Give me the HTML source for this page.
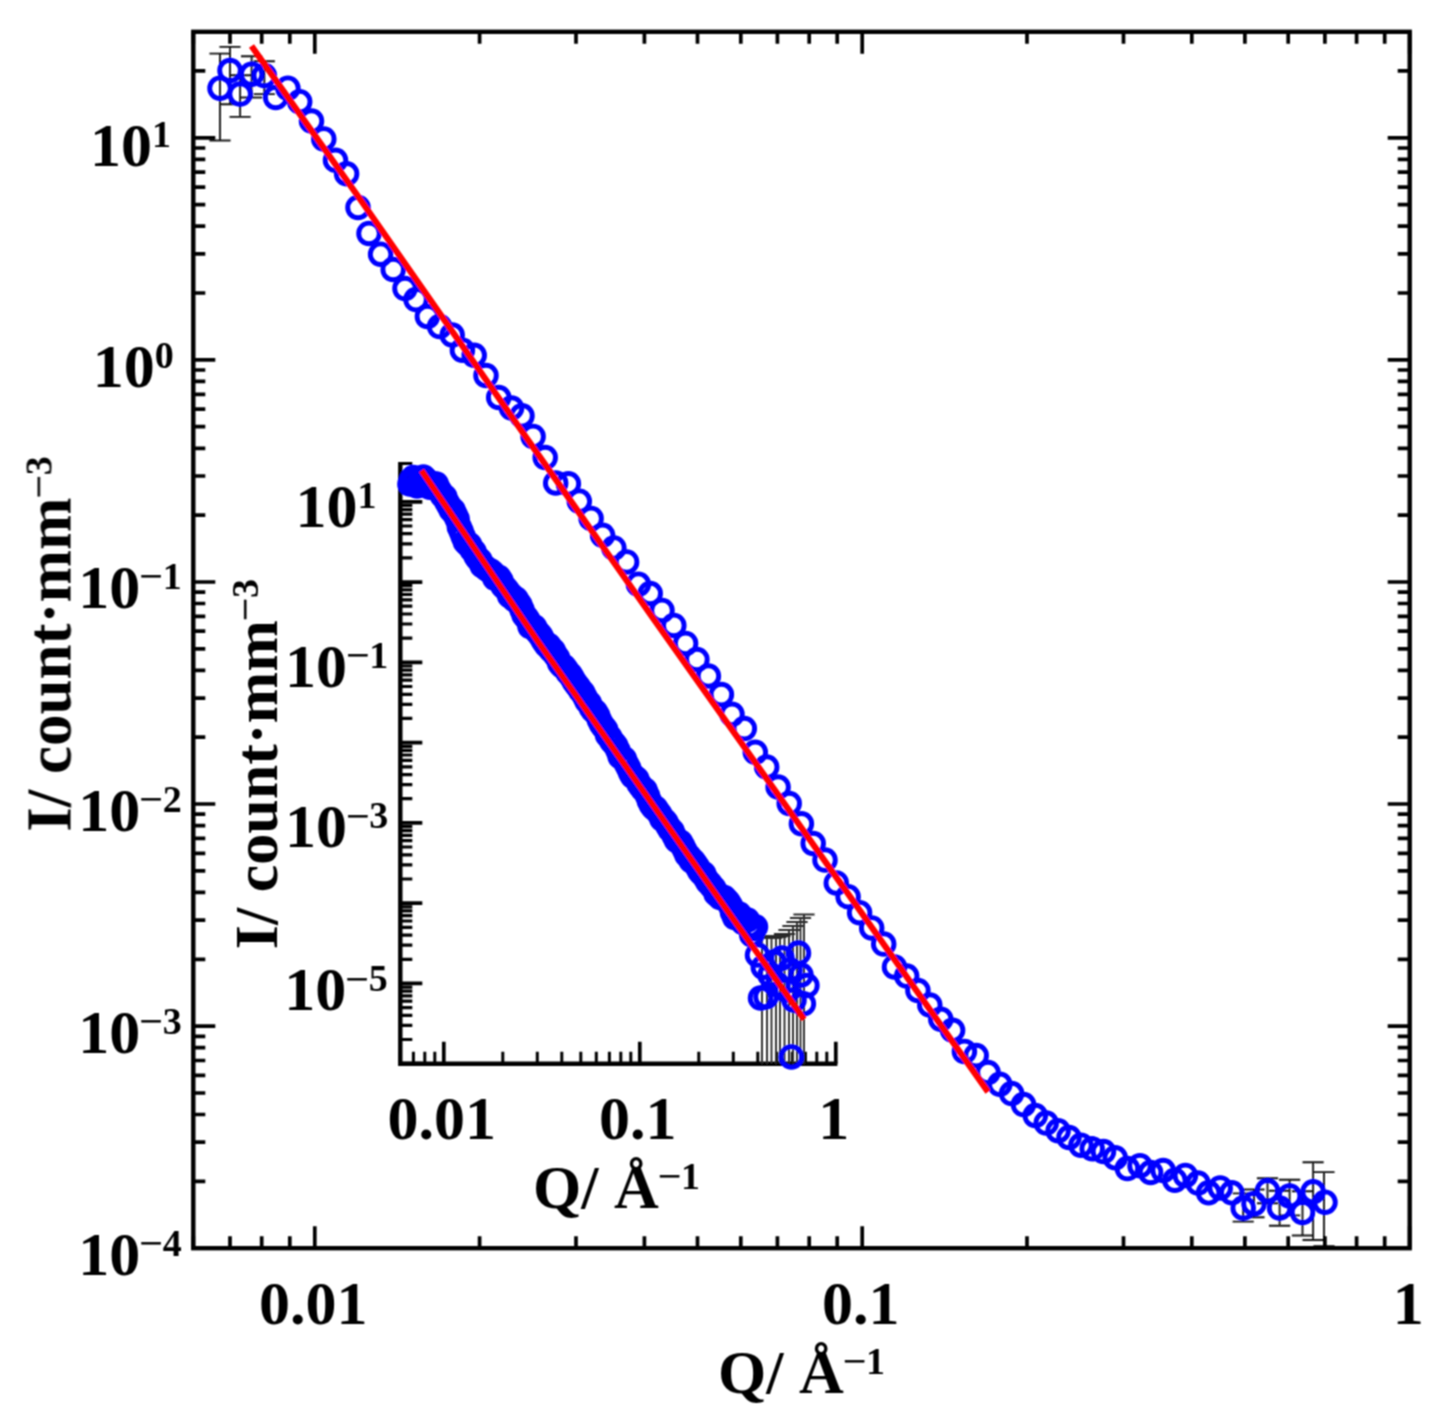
<!DOCTYPE html>
<html lang="en"><head><meta charset="utf-8"><title>I(Q) log-log plot</title>
<style>html,body{margin:0;padding:0;background:#fff}svg{display:block}</style></head>
<body>
<svg width="1448" height="1422" viewBox="0 0 1448 1422">
<defs><filter id="soft" filterUnits="userSpaceOnUse" x="0" y="0" width="1448" height="1422"><feConvolveMatrix order="3" kernelMatrix="1 2 1 2 4 2 1 2 1" divisor="16" edgeMode="duplicate"/></filter></defs>
<rect width="1448" height="1422" fill="#fff"/>
<g filter="url(#soft)">
<g stroke="#151515" stroke-width="1.9" fill="none">
<path d="M220 53.6V140.5M209.4 53.6H230.6M209.4 140.5H230.6M230 46.9V104.3M219.4 46.9H240.6M219.4 104.3H240.6M240.1 75.2V116.9M229.5 75.2H250.7M229.5 116.9H250.7M251.6 56.2V97.5M241 56.2H262.2M241 97.5H262.2M264.3 61.2V94.1M253.7 61.2H274.9M253.7 94.1H274.9M1243.2 1193.4V1221.6M1232.6 1193.4H1253.8M1232.6 1221.6H1253.8M1254 1189.5V1217.2M1243.4 1189.5H1264.6M1243.4 1217.2H1264.6M1267.5 1178.3V1203.2M1256.9 1178.3H1278.1M1256.9 1203.2H1278.1M1279.6 1190.8V1225.8M1269 1190.8H1290.2M1269 1225.8H1290.2M1289.6 1179.7V1215.4M1279 1179.7H1300.2M1279 1215.4H1300.2M1302.5 1191.3V1235.5M1291.9 1191.3H1313.1M1291.9 1235.5H1313.1M1313.1 1162.3V1240M1302.5 1162.3H1323.7M1302.5 1240H1323.7M1324 1172.1V1246.2M1313.4 1172.1H1334.6M1313.4 1246.2H1334.6"/></g>
<g fill="none" stroke="#0000ff" stroke-width="4.9">
<circle cx="220" cy="88.2" r="10.3"/>
<circle cx="230" cy="70.5" r="10.3"/>
<circle cx="240.1" cy="94.1" r="10.3"/>
<circle cx="251.6" cy="74.2" r="10.3"/>
<circle cx="264.3" cy="75.6" r="10.3"/>
<circle cx="275.7" cy="97.5" r="10.3"/>
<circle cx="287.9" cy="88.2" r="10.3"/>
<circle cx="299.7" cy="101.7" r="10.3"/>
<circle cx="311.5" cy="121.1" r="10.3"/>
<circle cx="323.8" cy="138.9" r="10.3"/>
<circle cx="335.5" cy="160.3" r="10.3"/>
<circle cx="346.6" cy="173.8" r="10.3"/>
<circle cx="358" cy="207.5" r="10.3"/>
<circle cx="369" cy="233.4" r="10.3"/>
<circle cx="380.6" cy="254.2" r="10.3"/>
<circle cx="393.2" cy="269.5" r="10.3"/>
<circle cx="405" cy="288.6" r="10.3"/>
<circle cx="416" cy="299.6" r="10.3"/>
<circle cx="427.4" cy="316.5" r="10.3"/>
<circle cx="439.6" cy="326.6" r="10.3"/>
<circle cx="452.2" cy="335" r="10.3"/>
<circle cx="462.4" cy="350.2" r="10.3"/>
<circle cx="474.2" cy="355.3" r="10.3"/>
<circle cx="486" cy="375.5" r="10.3"/>
<circle cx="498.7" cy="397.5" r="10.3"/>
<circle cx="511.5" cy="408" r="10.3"/>
<circle cx="522" cy="415.8" r="10.3"/>
<circle cx="533.1" cy="436.4" r="10.3"/>
<circle cx="545.2" cy="457.6" r="10.3"/>
<circle cx="555.7" cy="483" r="10.3"/>
<circle cx="568.4" cy="483.8" r="10.3"/>
<circle cx="579.3" cy="501.2" r="10.3"/>
<circle cx="591.1" cy="518.4" r="10.3"/>
<circle cx="602.6" cy="535.3" r="10.3"/>
<circle cx="613.9" cy="547.9" r="10.3"/>
<circle cx="626.6" cy="561.9" r="10.3"/>
<circle cx="638.4" cy="584.2" r="10.3"/>
<circle cx="650.2" cy="593.5" r="10.3"/>
<circle cx="662" cy="610.4" r="10.3"/>
<circle cx="673.8" cy="625.4" r="10.3"/>
<circle cx="685.6" cy="643.4" r="10.3"/>
<circle cx="696.9" cy="659.5" r="10.3"/>
<circle cx="708.4" cy="676" r="10.3"/>
<circle cx="721.4" cy="694.6" r="10.3"/>
<circle cx="732" cy="714.3" r="10.3"/>
<circle cx="744.3" cy="728.6" r="10.3"/>
<circle cx="755.3" cy="752.3" r="10.3"/>
<circle cx="766.7" cy="767.1" r="10.3"/>
<circle cx="778.1" cy="787" r="10.3"/>
<circle cx="789.2" cy="803.6" r="10.3"/>
<circle cx="801.4" cy="823.8" r="10.3"/>
<circle cx="813.2" cy="843.5" r="10.3"/>
<circle cx="825" cy="860.1" r="10.3"/>
<circle cx="836.3" cy="882.9" r="10.3"/>
<circle cx="848.1" cy="896.7" r="10.3"/>
<circle cx="859.6" cy="912.7" r="10.3"/>
<circle cx="871.7" cy="927.9" r="10.3"/>
<circle cx="883.7" cy="944.1" r="10.3"/>
<circle cx="894.5" cy="966.9" r="10.3"/>
<circle cx="906.7" cy="976.1" r="10.3"/>
<circle cx="917.9" cy="990.5" r="10.3"/>
<circle cx="929.8" cy="1005" r="10.3"/>
<circle cx="940.8" cy="1019.3" r="10.3"/>
<circle cx="952.6" cy="1030.3" r="10.3"/>
<circle cx="964.4" cy="1051.4" r="10.3"/>
<circle cx="976.2" cy="1055.6" r="10.3"/>
<circle cx="988" cy="1072.5" r="10.3"/>
<circle cx="999.8" cy="1084.3" r="10.3"/>
<circle cx="1011.6" cy="1093.6" r="10.3"/>
<circle cx="1023.5" cy="1104.6" r="10.3"/>
<circle cx="1035.3" cy="1115.5" r="10.3"/>
<circle cx="1046.2" cy="1123.1" r="10.3"/>
<circle cx="1058.1" cy="1130.7" r="10.3"/>
<circle cx="1069" cy="1137.5" r="10.3"/>
<circle cx="1080.9" cy="1145.2" r="10.3"/>
<circle cx="1092.2" cy="1148.8" r="10.3"/>
<circle cx="1103.5" cy="1151.6" r="10.3"/>
<circle cx="1115.2" cy="1157.8" r="10.3"/>
<circle cx="1127.4" cy="1168.6" r="10.3"/>
<circle cx="1140" cy="1165.7" r="10.3"/>
<circle cx="1150.6" cy="1172.5" r="10.3"/>
<circle cx="1163.2" cy="1170.5" r="10.3"/>
<circle cx="1174.8" cy="1180.2" r="10.3"/>
<circle cx="1185.4" cy="1175.4" r="10.3"/>
<circle cx="1198" cy="1183.1" r="10.3"/>
<circle cx="1208.6" cy="1192.8" r="10.3"/>
<circle cx="1220.2" cy="1187.9" r="10.3"/>
<circle cx="1231.8" cy="1192.8" r="10.3"/>
<circle cx="1243.2" cy="1207.9" r="10.3"/>
<circle cx="1254" cy="1203.7" r="10.3"/>
<circle cx="1267.5" cy="1190.8" r="10.3"/>
<circle cx="1279.6" cy="1207.9" r="10.3"/>
<circle cx="1289.6" cy="1195.9" r="10.3"/>
<circle cx="1302.5" cy="1212.5" r="10.3"/>
<circle cx="1313.1" cy="1191.8" r="10.3"/>
<circle cx="1325" cy="1202.2" r="10.3"/>
</g>
<polyline fill="none" stroke="#ff0000" stroke-width="6.2" stroke-linecap="butt" points="251.5,46 361,200.5 527.3,439 653.6,619 788.5,809.5 922.9,999.8 988,1091.9"/>
<g stroke="#000" fill="none" stroke-linecap="butt">
<path d="M400.3 461.9V1063.7H837.4" stroke-width="4.4" stroke-linejoin="miter"/>
<path d="M443.8 1063.7v-22.0M639.8 1063.7v-22.0M835.8 1063.7v-22.0M400.3 1063.7h22.0M400.3 983.4h22.0M400.3 903.1h22.0M400.3 822.9h22.0M400.3 742.6h22.0M400.3 662.3h22.0M400.3 582.1h22.0M400.3 501.8h22.0" stroke-width="3.7"/>
<path d="M400.3 1063.7v-12.0M413.4 1063.7v-12.0M424.8 1063.7v-12.0M434.8 1063.7v-12.0M502.8 1063.7v-12.0M537.3 1063.7v-12.0M561.8 1063.7v-12.0M580.8 1063.7v-12.0M596.3 1063.7v-12.0M609.4 1063.7v-12.0M620.8 1063.7v-12.0M630.8 1063.7v-12.0M698.8 1063.7v-12.0M733.3 1063.7v-12.0M757.8 1063.7v-12.0M776.8 1063.7v-12.0M792.3 1063.7v-12.0M805.4 1063.7v-12.0M816.8 1063.7v-12.0M826.8 1063.7v-12.0" stroke-width="3"/>
<path d="M400.3 1039.5h12.0M400.3 1025.4h12.0M400.3 1015.4h12.0M400.3 1007.6h12.0M400.3 1001.2h12.0M400.3 995.9h12.0M400.3 991.2h12.0M400.3 987.1h12.0M400.3 959.3h12.0M400.3 945.1h12.0M400.3 935.1h12.0M400.3 927.3h12.0M400.3 921h12.0M400.3 915.6h12.0M400.3 910.9h12.0M400.3 906.8h12.0M400.3 879h12.0M400.3 864.9h12.0M400.3 854.8h12.0M400.3 847h12.0M400.3 840.7h12.0M400.3 835.3h12.0M400.3 830.7h12.0M400.3 826.6h12.0M400.3 798.7h12.0M400.3 784.6h12.0M400.3 774.6h12.0M400.3 766.8h12.0M400.3 760.4h12.0M400.3 755h12.0M400.3 750.4h12.0M400.3 746.3h12.0M400.3 718.4h12.0M400.3 704.3h12.0M400.3 694.3h12.0M400.3 686.5h12.0M400.3 680.1h12.0M400.3 674.8h12.0M400.3 670.1h12.0M400.3 666h12.0M400.3 638.2h12.0M400.3 624h12.0M400.3 614h12.0M400.3 606.2h12.0M400.3 599.9h12.0M400.3 594.5h12.0M400.3 589.8h12.0M400.3 585.7h12.0M400.3 557.9h12.0M400.3 543.8h12.0M400.3 533.7h12.0M400.3 526h12.0M400.3 519.6h12.0M400.3 514.2h12.0M400.3 509.6h12.0M400.3 505.5h12.0M400.3 477.6h12.0M400.3 463.5h12.0" stroke-width="3.2"/>
</g>
<g stroke="#2a2a2a" stroke-width="1.9" fill="none">
<path d="M762 936V1063.7M751.4 936H772.6M767 937V1063.7M756.4 937H777.6M771.5 938V1063.7M760.9 938H782.1M776 937V1063.7M765.4 937H786.6M780 936V1063.7M769.4 936H790.6M784.5 934V1063.7M773.9 934H795.1M789 930V1063.7M778.4 930H799.6M793 926V1063.7M782.4 926H803.6M797 922V1063.7M786.4 922H807.6M800.5 918V1063.7M789.9 918H811.1M804 914.5V1063.7M793.4 914.5H814.6"/></g>
<g fill="none" stroke="#0000ff" stroke-width="4.9">
<circle cx="409.9" cy="483.9" r="10.3"/>
<circle cx="411.6" cy="479.8" r="10.3"/>
<circle cx="413.4" cy="477.5" r="10.3"/>
<circle cx="415.2" cy="480" r="10.3"/>
<circle cx="417.1" cy="486" r="10.3"/>
<circle cx="419.1" cy="483.2" r="10.3"/>
<circle cx="421.2" cy="478.8" r="10.3"/>
<circle cx="423.4" cy="476.9" r="10.3"/>
<circle cx="425.7" cy="479.3" r="10.3"/>
<circle cx="427.8" cy="483.5" r="10.3"/>
<circle cx="429.8" cy="487.2" r="10.3"/>
<circle cx="432" cy="484.9" r="10.3"/>
<circle cx="434.2" cy="483.9" r="10.3"/>
<circle cx="436.3" cy="484.1" r="10.3"/>
<circle cx="438.4" cy="488.8" r="10.3"/>
<circle cx="440.5" cy="492.3" r="10.3"/>
<circle cx="442.6" cy="495.8" r="10.3"/>
<circle cx="444.8" cy="496.7" r="10.3"/>
<circle cx="447" cy="502.2" r="10.3"/>
<circle cx="449.1" cy="505.7" r="10.3"/>
<circle cx="451.2" cy="509.9" r="10.3"/>
<circle cx="453.2" cy="510.2" r="10.3"/>
<circle cx="455.2" cy="514.8" r="10.3"/>
<circle cx="457.2" cy="518.9" r="10.3"/>
<circle cx="459.3" cy="527" r="10.3"/>
<circle cx="461.2" cy="531.3" r="10.3"/>
<circle cx="463.2" cy="536.4" r="10.3"/>
<circle cx="465.3" cy="541.7" r="10.3"/>
<circle cx="467.4" cy="543.9" r="10.3"/>
<circle cx="469.6" cy="544.8" r="10.3"/>
<circle cx="471.9" cy="549.4" r="10.3"/>
<circle cx="474" cy="551.5" r="10.3"/>
<circle cx="476.1" cy="556.3" r="10.3"/>
<circle cx="478.1" cy="558.9" r="10.3"/>
<circle cx="480" cy="560.3" r="10.3"/>
<circle cx="482.1" cy="565.6" r="10.3"/>
<circle cx="484.1" cy="566.4" r="10.3"/>
<circle cx="486.3" cy="568.6" r="10.3"/>
<circle cx="488.5" cy="570" r="10.3"/>
<circle cx="490.7" cy="571" r="10.3"/>
<circle cx="493" cy="573.1" r="10.3"/>
<circle cx="494.8" cy="578.2" r="10.3"/>
<circle cx="496.6" cy="578.6" r="10.3"/>
<circle cx="498.8" cy="577.2" r="10.3"/>
<circle cx="500.9" cy="580.4" r="10.3"/>
<circle cx="503" cy="585.9" r="10.3"/>
<circle cx="505.1" cy="587.7" r="10.3"/>
<circle cx="507.4" cy="590.6" r="10.3"/>
<circle cx="509.6" cy="595.7" r="10.3"/>
<circle cx="511.9" cy="595.8" r="10.3"/>
<circle cx="514.2" cy="599.5" r="10.3"/>
<circle cx="516.1" cy="599" r="10.3"/>
<circle cx="518" cy="602.3" r="10.3"/>
<circle cx="520" cy="605.1" r="10.3"/>
<circle cx="522" cy="609.7" r="10.3"/>
<circle cx="524.1" cy="615.2" r="10.3"/>
<circle cx="526.3" cy="617.4" r="10.3"/>
<circle cx="528.2" cy="620.4" r="10.3"/>
<circle cx="530" cy="626.6" r="10.3"/>
<circle cx="532.3" cy="627.1" r="10.3"/>
<circle cx="534.6" cy="626.9" r="10.3"/>
<circle cx="536.5" cy="630.7" r="10.3"/>
<circle cx="538.5" cy="633.2" r="10.3"/>
<circle cx="540.6" cy="635.6" r="10.3"/>
<circle cx="542.7" cy="639.4" r="10.3"/>
<circle cx="544.8" cy="642.7" r="10.3"/>
<circle cx="546.8" cy="645.5" r="10.3"/>
<circle cx="548.9" cy="645.6" r="10.3"/>
<circle cx="550.9" cy="650.1" r="10.3"/>
<circle cx="553.2" cy="650.4" r="10.3"/>
<circle cx="555.4" cy="655.1" r="10.3"/>
<circle cx="557.5" cy="657.7" r="10.3"/>
<circle cx="559.7" cy="663.2" r="10.3"/>
<circle cx="561.8" cy="665.8" r="10.3"/>
<circle cx="563.9" cy="666.6" r="10.3"/>
<circle cx="566" cy="669.3" r="10.3"/>
<circle cx="568.1" cy="672.7" r="10.3"/>
<circle cx="570.2" cy="674.5" r="10.3"/>
<circle cx="572.3" cy="678.1" r="10.3"/>
<circle cx="574.4" cy="681.8" r="10.3"/>
<circle cx="576.6" cy="684.7" r="10.3"/>
<circle cx="578.6" cy="687.3" r="10.3"/>
<circle cx="580.6" cy="690.5" r="10.3"/>
<circle cx="582.7" cy="692.5" r="10.3"/>
<circle cx="584.7" cy="696.5" r="10.3"/>
<circle cx="587" cy="701.3" r="10.3"/>
<circle cx="589.4" cy="703.2" r="10.3"/>
<circle cx="591.3" cy="707.8" r="10.3"/>
<circle cx="593.2" cy="710.4" r="10.3"/>
<circle cx="595.4" cy="711.7" r="10.3"/>
<circle cx="597.6" cy="715.6" r="10.3"/>
<circle cx="599.5" cy="720.3" r="10.3"/>
<circle cx="601.5" cy="724.2" r="10.3"/>
<circle cx="603.6" cy="727.1" r="10.3"/>
<circle cx="605.6" cy="729.6" r="10.3"/>
<circle cx="607.6" cy="735.2" r="10.3"/>
<circle cx="609.7" cy="736.9" r="10.3"/>
<circle cx="611.7" cy="741.1" r="10.3"/>
<circle cx="613.6" cy="743" r="10.3"/>
<circle cx="615.8" cy="745.7" r="10.3"/>
<circle cx="618" cy="750.5" r="10.3"/>
<circle cx="620.1" cy="756.5" r="10.3"/>
<circle cx="622.2" cy="757.7" r="10.3"/>
<circle cx="624.4" cy="758.9" r="10.3"/>
<circle cx="626.5" cy="763.9" r="10.3"/>
<circle cx="628.5" cy="767.7" r="10.3"/>
<circle cx="630.5" cy="772.4" r="10.3"/>
<circle cx="632.6" cy="776.3" r="10.3"/>
<circle cx="634.7" cy="777.6" r="10.3"/>
<circle cx="636.8" cy="778.9" r="10.3"/>
<circle cx="638.9" cy="783.7" r="10.3"/>
<circle cx="641" cy="786.5" r="10.3"/>
<circle cx="643.2" cy="789.5" r="10.3"/>
<circle cx="645.3" cy="790.3" r="10.3"/>
<circle cx="647.5" cy="795.7" r="10.3"/>
<circle cx="649.4" cy="801" r="10.3"/>
<circle cx="651.3" cy="804.7" r="10.3"/>
<circle cx="653.5" cy="807.8" r="10.3"/>
<circle cx="655.7" cy="808.3" r="10.3"/>
<circle cx="657.7" cy="811.6" r="10.3"/>
<circle cx="659.7" cy="814.1" r="10.3"/>
<circle cx="661.9" cy="819" r="10.3"/>
<circle cx="664" cy="820.1" r="10.3"/>
<circle cx="666" cy="822.2" r="10.3"/>
<circle cx="667.9" cy="826.1" r="10.3"/>
<circle cx="670" cy="829.5" r="10.3"/>
<circle cx="672.1" cy="830.9" r="10.3"/>
<circle cx="674.3" cy="836" r="10.3"/>
<circle cx="676.4" cy="840.3" r="10.3"/>
<circle cx="678.5" cy="841.6" r="10.3"/>
<circle cx="680.6" cy="842.2" r="10.3"/>
<circle cx="682.7" cy="846" r="10.3"/>
<circle cx="684.8" cy="850.2" r="10.3"/>
<circle cx="686.9" cy="854.9" r="10.3"/>
<circle cx="689" cy="856.2" r="10.3"/>
<circle cx="691.2" cy="860.8" r="10.3"/>
<circle cx="693.3" cy="861" r="10.3"/>
<circle cx="695.4" cy="863.9" r="10.3"/>
<circle cx="697.5" cy="867.1" r="10.3"/>
<circle cx="699.6" cy="871.1" r="10.3"/>
<circle cx="701.8" cy="873.5" r="10.3"/>
<circle cx="703.7" cy="873.7" r="10.3"/>
<circle cx="705.7" cy="878.3" r="10.3"/>
<circle cx="707.8" cy="881.9" r="10.3"/>
<circle cx="709.9" cy="883.4" r="10.3"/>
<circle cx="711.9" cy="886.6" r="10.3"/>
<circle cx="713.8" cy="888.3" r="10.3"/>
<circle cx="716" cy="893.8" r="10.3"/>
<circle cx="718.1" cy="894.3" r="10.3"/>
<circle cx="720.1" cy="897.4" r="10.3"/>
<circle cx="722.1" cy="897.3" r="10.3"/>
<circle cx="724.2" cy="897.4" r="10.3"/>
<circle cx="726.2" cy="899.7" r="10.3"/>
<circle cx="728.3" cy="902.1" r="10.3"/>
<circle cx="730.4" cy="905.6" r="10.3"/>
<circle cx="732.5" cy="912.4" r="10.3"/>
<circle cx="734.7" cy="917.5" r="10.3"/>
<circle cx="737" cy="913.4" r="10.3"/>
<circle cx="739.2" cy="914" r="10.3"/>
<circle cx="741.1" cy="918.1" r="10.3"/>
<circle cx="743" cy="922.6" r="10.3"/>
<circle cx="745.3" cy="919.6" r="10.3"/>
<circle cx="747.5" cy="919.9" r="10.3"/>
<circle cx="749.6" cy="925.4" r="10.3"/>
<circle cx="751.7" cy="934.8" r="10.3"/>
<circle cx="753.6" cy="928.6" r="10.3"/>
<circle cx="755.5" cy="926.8" r="10.3"/>
<circle cx="757.5" cy="955" r="10.3"/>
<circle cx="760.5" cy="998.1" r="10.3"/>
<circle cx="763.3" cy="967.2" r="10.3"/>
<circle cx="766" cy="996.7" r="10.3"/>
<circle cx="770" cy="975" r="10.3"/>
<circle cx="774" cy="962" r="10.3"/>
<circle cx="778" cy="985" r="10.3"/>
<circle cx="782" cy="958" r="10.3"/>
<circle cx="786" cy="990" r="10.3"/>
<circle cx="790" cy="970" r="10.3"/>
<circle cx="791.4" cy="1056.9" r="10.3"/>
<circle cx="794" cy="1000" r="10.3"/>
<circle cx="798.5" cy="953.1" r="10.3"/>
<circle cx="801" cy="975" r="10.3"/>
<circle cx="803.4" cy="1003.8" r="10.3"/>
<circle cx="806.9" cy="985.5" r="10.3"/>
</g>
<polyline fill="none" stroke="#ff0000" stroke-width="6.0" points="421.5,470.5 536.9,640 705.7,880 804.1,1019.2"/>
<g stroke="#000" fill="none" stroke-linecap="butt">
<rect x="193.3" y="31.8" width="1216.4" height="1216.4" stroke-width="4.4"/>
<path d="M314.8 1248.2v-22.0M314.8 31.8v22.0M862.2 1248.2v-22.0M862.2 31.8v22.0M1409.7 1248.2v-22.0M1409.7 31.8v22.0M193.3 1248.2h22.0M1409.7 1248.2h-22.0M193.3 1026.1h22.0M1409.7 1026.1h-22.0M193.3 804h22.0M1409.7 804h-22.0M193.3 582h22.0M1409.7 582h-22.0M193.3 359.9h22.0M1409.7 359.9h-22.0M193.3 137.8h22.0M1409.7 137.8h-22.0M193.3 1248.2v-12.0M193.3 31.8v12.0M230 1248.2v-12.0M230 31.8v12.0M261.7 1248.2v-12.0M261.7 31.8v12.0M289.8 1248.2v-12.0M289.8 31.8v12.0M479.6 1248.2v-12.0M479.6 31.8v12.0M576 1248.2v-12.0M576 31.8v12.0M644.4 1248.2v-12.0M644.4 31.8v12.0M697.5 1248.2v-12.0M697.5 31.8v12.0M740.8 1248.2v-12.0M740.8 31.8v12.0M777.4 1248.2v-12.0M777.4 31.8v12.0M809.2 1248.2v-12.0M809.2 31.8v12.0M837.2 1248.2v-12.0M837.2 31.8v12.0M1027 1248.2v-12.0M1027 31.8v12.0M1123.5 1248.2v-12.0M1123.5 31.8v12.0M1191.8 1248.2v-12.0M1191.8 31.8v12.0M1244.9 1248.2v-12.0M1244.9 31.8v12.0M1288.2 1248.2v-12.0M1288.2 31.8v12.0M1324.9 1248.2v-12.0M1324.9 31.8v12.0M1356.6 1248.2v-12.0M1356.6 31.8v12.0M1384.7 1248.2v-12.0M1384.7 31.8v12.0M193.3 1181.3h12.0M1409.7 1181.3h-12.0M193.3 1142.2h12.0M1409.7 1142.2h-12.0M193.3 1114.5h12.0M1409.7 1114.5h-12.0M193.3 1093h12.0M1409.7 1093h-12.0M193.3 1075.4h12.0M1409.7 1075.4h-12.0M193.3 1060.5h12.0M1409.7 1060.5h-12.0M193.3 1047.6h12.0M1409.7 1047.6h-12.0M193.3 1036.3h12.0M1409.7 1036.3h-12.0M193.3 959.3h12.0M1409.7 959.3h-12.0M193.3 920.2h12.0M1409.7 920.2h-12.0M193.3 892.4h12.0M1409.7 892.4h-12.0M193.3 870.9h12.0M1409.7 870.9h-12.0M193.3 853.3h12.0M1409.7 853.3h-12.0M193.3 838.4h12.0M1409.7 838.4h-12.0M193.3 825.6h12.0M1409.7 825.6h-12.0M193.3 814.2h12.0M1409.7 814.2h-12.0M193.3 737.2h12.0M1409.7 737.2h-12.0M193.3 698.1h12.0M1409.7 698.1h-12.0M193.3 670.3h12.0M1409.7 670.3h-12.0M193.3 648.8h12.0M1409.7 648.8h-12.0M193.3 631.2h12.0M1409.7 631.2h-12.0M193.3 616.4h12.0M1409.7 616.4h-12.0M193.3 603.5h12.0M1409.7 603.5h-12.0M193.3 592.1h12.0M1409.7 592.1h-12.0M193.3 515.1h12.0M1409.7 515.1h-12.0M193.3 476h12.0M1409.7 476h-12.0M193.3 448.3h12.0M1409.7 448.3h-12.0M193.3 426.7h12.0M1409.7 426.7h-12.0M193.3 409.1h12.0M1409.7 409.1h-12.0M193.3 394.3h12.0M1409.7 394.3h-12.0M193.3 381.4h12.0M1409.7 381.4h-12.0M193.3 370h12.0M1409.7 370h-12.0M193.3 293h12.0M1409.7 293h-12.0M193.3 253.9h12.0M1409.7 253.9h-12.0M193.3 226.2h12.0M1409.7 226.2h-12.0M193.3 204.7h12.0M1409.7 204.7h-12.0M193.3 187.1h12.0M1409.7 187.1h-12.0M193.3 172.2h12.0M1409.7 172.2h-12.0M193.3 159.3h12.0M1409.7 159.3h-12.0M193.3 148h12.0M1409.7 148h-12.0M193.3 70.9h12.0M1409.7 70.9h-12.0M193.3 31.8h12.0M1409.7 31.8h-12.0" stroke-width="3.7"/>
</g>
<g font-family="'Liberation Serif','Times New Roman',serif" font-weight="bold" font-size="62" fill="#000">
<text x="90.1" y="165.7">10<tspan font-size="38" dy="-19">1</tspan></text>
<text x="92.8" y="387.2">10<tspan font-size="38" dy="-19">0</tspan></text>
<text x="78.3" y="607.5">10<tspan font-weight="normal" font-size="41" dx="-0.8" dy="-17.9" stroke="#000" stroke-width="0.5">−</tspan><tspan font-size="38" dy="-1.1">1</tspan></text>
<text x="78.3" y="830.6">10<tspan font-weight="normal" font-size="41" dx="-0.8" dy="-17.9" stroke="#000" stroke-width="0.5">−</tspan><tspan font-size="38" dy="-1.1">2</tspan></text>
<text x="78.3" y="1052.6">10<tspan font-weight="normal" font-size="41" dx="-0.8" dy="-17.9" stroke="#000" stroke-width="0.5">−</tspan><tspan font-size="38" dy="-1.1">3</tspan></text>
<text x="78.3" y="1274.6">10<tspan font-weight="normal" font-size="41" dx="-0.8" dy="-17.9" stroke="#000" stroke-width="0.5">−</tspan><tspan font-size="38" dy="-1.1">4</tspan></text>
<text x="313.3" y="1324.3" text-anchor="middle">0.01</text>
<text x="860.8" y="1324.3" text-anchor="middle">0.1</text>
<text x="1408.2" y="1324.3" text-anchor="middle">1</text>
<text x="801.5" y="1393.3" text-anchor="middle">Q/ Å<tspan font-weight="normal" font-size="41" dx="-0.8" dy="-17.9" stroke="#000" stroke-width="0.5">−</tspan><tspan font-size="38" dy="-1.1">1</tspan></text>
<text transform="translate(70.5 644) rotate(-90)" text-anchor="middle" font-size="63">I/ count·mm<tspan font-weight="normal" font-size="41" dx="-0.8" dy="-17.9" stroke="#000" stroke-width="0.5">−</tspan><tspan font-size="38" dy="-1.1">3</tspan></text>
<text x="295.4" y="526.8">10<tspan font-size="38" dy="-19">1</tspan></text>
<text x="285" y="687.2">10<tspan font-weight="normal" font-size="41" dx="-0.8" dy="-17.9" stroke="#000" stroke-width="0.5">−</tspan><tspan font-size="38" dy="-1.1">1</tspan></text>
<text x="285" y="847.4">10<tspan font-weight="normal" font-size="41" dx="-0.8" dy="-17.9" stroke="#000" stroke-width="0.5">−</tspan><tspan font-size="38" dy="-1.1">3</tspan></text>
<text x="284.3" y="1010.4">10<tspan font-weight="normal" font-size="41" dx="-0.8" dy="-17.9" stroke="#000" stroke-width="0.5">−</tspan><tspan font-size="38" dy="-1.1">5</tspan></text>
<text x="441.8" y="1139.4" text-anchor="middle">0.01</text>
<text x="637.8" y="1139.4" text-anchor="middle">0.1</text>
<text x="833.8" y="1139.4" text-anchor="middle">1</text>
<text x="616.5" y="1208.2" text-anchor="middle">Q/ Å<tspan font-weight="normal" font-size="41" dx="-0.8" dy="-17.9" stroke="#000" stroke-width="0.5">−</tspan><tspan font-size="38" dy="-1.1">1</tspan></text>
<text transform="translate(276.5 764) rotate(-90)" text-anchor="middle">I/ count·mm<tspan font-weight="normal" font-size="41" dx="-0.8" dy="-17.9" stroke="#000" stroke-width="0.5">−</tspan><tspan font-size="38" dy="-1.1">3</tspan></text>
</g>
</g>
</svg>
</body></html>
